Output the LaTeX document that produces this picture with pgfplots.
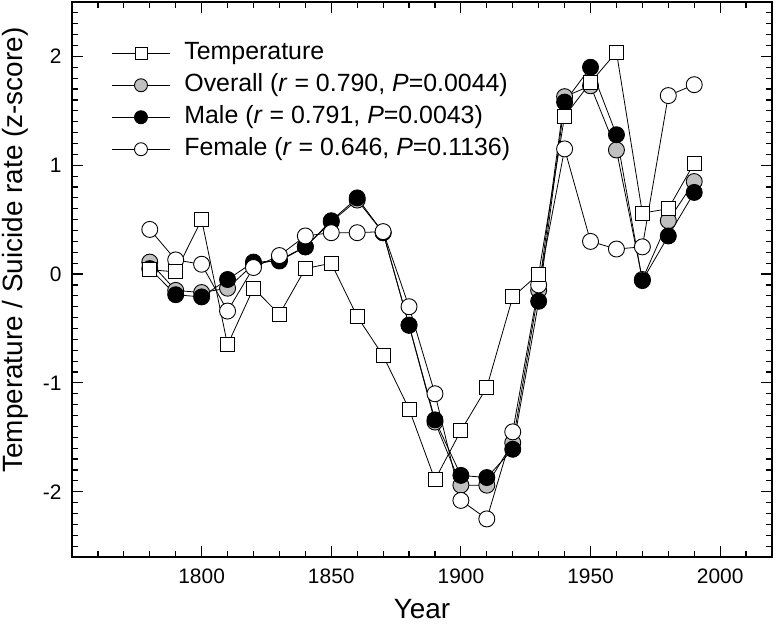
\documentclass[border=0pt]{standalone}
\usepackage{fontspec}
\setmainfont{Liberation Sans}
\usepackage{pgfplots}
\usepackage{pgfplotstable}
\pgfplotsset{compat=1.18}
\definecolor{silver}{RGB}{192,192,192}

% z-scores per decade
\pgfplotstableread{
year  temp   overall  male   female
1780  0.04   0.11     0.05   0.41
1790  0.02  -0.15    -0.19   0.13
1800  0.50  -0.17    -0.21   0.09
1810 -0.65  -0.13    -0.05  -0.34
1820 -0.13   0.09     0.11   0.06
1830 -0.37   0.13     0.12   0.17
1840  0.05   0.25     0.25   0.35
1850  0.10   0.48     0.49   0.38
1860 -0.39   0.68     0.70   0.38
1870 -0.75   0.38     0.38   0.39
1880 -1.24  -0.47    -0.47  -0.30
1890 -1.89  -1.36    -1.34  -1.10
1900 -1.44  -1.94    -1.85  -2.08
1910 -1.04  -1.94    -1.87  -2.25
1920 -0.21  -1.55    -1.61  -1.45
1930  0.00  -0.15    -0.25  -0.10
1940  1.45   1.63     1.58   1.15
1950  1.76   1.73     1.90   0.30
1960  2.04   1.14     1.28   0.23
1970  0.56  -0.05    -0.06   0.25
1980  0.60   0.49     0.35   1.64
1990  1.02   0.85     0.75   1.74
}\zdata

\tikzset{
  tempst/.style={black, line width=0.8bp, mark=square*, mark size=7bp,
    mark options={fill=white, line width=0.9bp}},
  overallst/.style={black, line width=0.8bp, mark=*, mark size=8bp,
    mark options={fill=silver, line width=0.9bp}},
  malest/.style={black, line width=0.8bp, mark=*, mark size=8bp,
    mark options={fill=black, line width=0.9bp}},
  femalest/.style={black, line width=0.8bp, mark=*, mark size=8bp,
    mark options={fill=white, line width=0.9bp}},
}

\begin{document}
\begin{tikzpicture}
\useasboundingbox (-72bp,-74bp) rectangle (704bp,557bp);
\begin{axis}[
  scale only axis,
  width=700bp, height=555bp,
  xmin=1750, xmax=2020,
  ymin=-2.6, ymax=2.5,
  xtick={1800,1850,...,2000},
  minor xtick={1750,1760,...,2020},
  ytick={-2,-1,0,1,2},
  minor ytick={-2.6,-2.5,...,2.5},
  tick align=inside,
  major tick length=11bp,
  minor tick length=6bp,
  tick style={black, line width=1.2bp},
  axis line style={line width=1.6bp},
  /pgf/number format/assume math mode=true,
  /pgf/number format/1000 sep={},
  ticklabel style={font=\fontsize{21}{24}\selectfont},
  xticklabel style={yshift=-8bp},
  yticklabel style={xshift=-7bp},
  xlabel={Year},
  ylabel={Temperature / Suicide rate (z-score)},
  label style={font=\fontsize{28}{31}\selectfont},
  xlabel style={at={(axis description cs:0.5,-0.07)}, anchor=north},
  ylabel style={at={(axis description cs:-0.081,0.553)}, anchor=center},
  legend cell align=left,
  legend style={draw=none, fill=none, at={(axis description cs:0.052,0.935)},
    anchor=north west, font=\fontsize{25}{28}\selectfont,
    nodes={inner sep=1pt, text height=18bp, text depth=6bp},
    row sep=6bp, column sep=13bp},
  legend image code/.code={
    \draw[mark repeat=2,mark phase=2,#1]
      plot coordinates {(0bp,0bp) (29bp,0bp) (58bp,0bp)};},
]
\addplot[overallst, forget plot] table[x=year, y=overall] {\zdata};
\addplot[malest, forget plot] table[x=year, y=male] {\zdata};
\addplot[femalest, forget plot] table[x=year, y=female] {\zdata};
\addplot[tempst, forget plot] table[x=year, y=temp] {\zdata};

\addlegendimage{tempst, mark size=6bp}
\addlegendentry{Temperature}
\addlegendimage{overallst, mark size=6.5bp}
\addlegendentry{Overall (\textit{r} = 0.790, \textit{P}=0.0044)}
\addlegendimage{malest, mark size=6.5bp}
\addlegendentry{Male (\textit{r} = 0.791, \textit{P}=0.0043)}
\addlegendimage{femalest, mark size=6.5bp}
\addlegendentry{Female (\textit{r} = 0.646, \textit{P}=0.1136)}
\end{axis}
\end{tikzpicture}
\end{document}
